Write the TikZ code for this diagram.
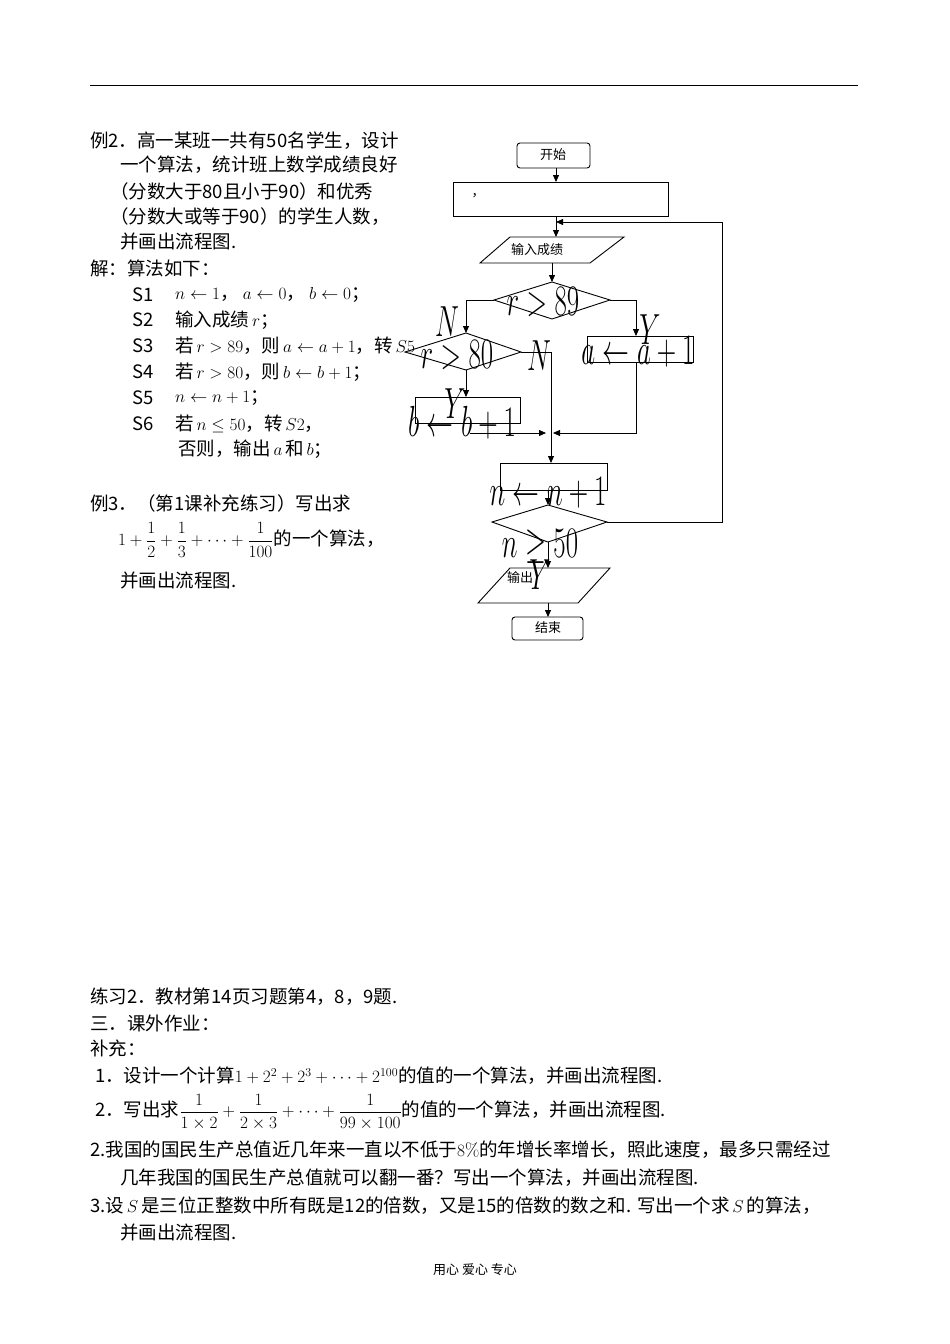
\documentclass[tikz,border=0pt]{standalone}
\usepackage{fontspec}
\usepackage{amsmath,amssymb}
\newfontfamily\cjk{Noto Sans CJK SC}
\usetikzlibrary{shapes.geometric,arrows.meta}
\begin{document}
\begin{tikzpicture}[x=1pt,y=-1pt,
 tx/.style={anchor=west,inner sep=0pt,font=\cjk\fontsize{18.5}{20}\selectfont},
 big/.style={inner sep=0pt,font=\fontsize{24}{24}\selectfont,xscale=1.08,yscale=1.75,transform shape},
 sm/.style={inner sep=0pt,font=\cjk\fontsize{13}{15}\selectfont},
 box/.style={draw,thick,line width=0.9pt},
 ar/.style={draw,line width=0.8pt,-{Triangle[length=7pt,width=6pt]}},
 ln/.style={draw,line width=0.8pt}]
\useasboundingbox (0,0) rectangle (950,1344);
\draw[line width=0.8pt] (90,85) -- (858,85);
% left text
\node[tx] (t1) at (90,141) {例2．高一某班一共有50名学生，设计};
\node[tx] (t2) at (120,165) {一个算法，统计班上数学成绩良好};
\node[tx] (t3) at (110,191) {（分数大于80且小于90）和优秀};
\node[tx] (t4) at (110,217) {（分数大或等于90）的学生人数，};
\node[tx] (t5) at (120,242) {并画出流程图.};
\node[tx] (t6) at (90,268) {解：算法如下：};
\foreach \i/\yy/\c in {1/295/{$n\leftarrow 1$，\ $a\leftarrow 0$，\ $b\leftarrow 0$；},
 2/320/{输入成绩$\,r$；},
 3/346/{若$\,r>89$，则$\,a\leftarrow a+1$，转$\,S5$},
 4/372/{若$\,r>80$，则$\,b\leftarrow b+1$；},
 5/398/{$n\leftarrow n+1$；},
 6/424/{若$\,n\le 50$，转$\,S2$，}}
 { \node[tx] (s\i) at (132,\yy) {S\i}; \node[tx] (c\i) at (175,\yy) {\c}; }
\node[tx] (c7) at (178,449) {否则，输出$\,a\,$和$\,b$；};
\node[tx] (e3) at (90,503) {例3．（第1课补充练习）写出求};
\node[tx] (e3f) at (118,540) {$1+\dfrac12+\dfrac13+\cdots+\dfrac1{100}$的一个算法，};
\node[tx] (e3b) at (120,580) {并画出流程图.};
% bottom text
\node[tx] (b1) at (90,997) {练习2．教材第14页习题第4，8，9题.};
\node[tx] (b2) at (90,1023) {三．课外作业：};
\node[tx] (b3) at (90,1048) {补充：};
\node[tx] (b4) at (95,1076) {1．设计一个计算$1+2^2+2^3+\cdots+2^{100}$的值的一个算法，并画出流程图.};
\node[tx] (b5) at (95,1112) {2．写出求$\dfrac1{1\times2}+\dfrac1{2\times3}+\cdots+\dfrac1{99\times100}$的值的一个算法，并画出流程图.};
\node[tx] (b6) at (90,1150) {2.我国的国民生产总值近几年来一直以不低于$8\%$的年增长率增长，照此速度，最多只需经过};
\node[tx] (b7) at (120,1178) {几年我国的国民生产总值就可以翻一番？写出一个算法，并画出流程图.};
\node[tx] (b8) at (90,1206) {3.设$\,S\,$是三位正整数中所有既是12的倍数，又是15的倍数的数之和. 写出一个求$\,S\,$的算法，};
\node[tx] (b9) at (120,1232) {并画出流程图.};
\node[sm] (ft) at (475,1270) {用心\ 爱心\ 专心};
% flowchart
\draw[box,rounded corners=3pt] (517,143) rectangle (590,168);
\node[sm] (st) at (553,155) {开始};
\draw[box] (453,182) rectangle (668,216);
\node[sm] (cm) at (478,196) {，};
\draw[box] (510,237) -- (624,237) -- (590,263) -- (480,263) -- cycle;
\node[sm] (in) at (537,250) {输入成绩};
\draw[box] (494,300) -- (552,282) -- (610,300) -- (552,319) -- cycle;
\node[big] (d1) at (543,302) {$r>89$};
\draw[box] (405,352) -- (466,333) -- (521,352) -- (466,370) -- cycle;
\node[big] (d2) at (457,355) {$r>80$};
\draw[box] (587,336) rectangle (693,362);
\node[big] (ta) at (638,352) {$a\leftarrow a+1$};
\draw[box] (415,397) rectangle (520,423);
\node[big] (tb) at (462,423) {$b\leftarrow b+1$};
\draw[box] (500,463) rectangle (607,490);
\node[big] (tn) at (548,493) {$n\leftarrow n+1$};
\draw[box] (492,522) -- (548,505) -- (607,522) -- (548,542) -- cycle;
\node[big] (d3) at (540,546) {$n\ge 50$};
\draw[box] (510,568) -- (610,568) -- (578,603) -- (478,603) -- cycle;
\node[sm] (out) at (520,578) {输出};
\draw[box,rounded corners=3pt] (512,617) rectangle (583,640);
\node[sm] (en) at (548,628) {结束};
\node[big] (N1) at (447,322) {$N$};
\node[big] (Y1) at (650,330) {$Y$};
\node[big] (N2) at (539,356) {$N$};
\node[big] (Y2) at (455,404) {$Y$};
\node[big] (Y3) at (540,575) {$Y$};
% connectors
\draw[ar] (556,168) -- (556,182);
\draw[ar] (556,216) -- (556,237);
\draw[ar] (552,263) -- (552,282);
\draw[ar] (494,300) -- (466,300) -- (466,333);
\draw[ar] (610,300) -- (636,300) -- (636,336);
\draw[ar] (466,370) -- (466,397);
\draw[ar] (470,433) -- (546,433);
\draw[ar] (636,362) -- (636,433) -- (553,433);
\draw[ar] (521,352) -- (551,352) -- (551,463);
\draw[ar] (548,490) -- (548,505);
\draw[ar] (607,522) -- (722,522) -- (722,222) -- (556,222);
\draw[ar] (548,542) -- (548,568);
\draw[ar] (548,603) -- (548,617);
\end{tikzpicture}
\end{document}
